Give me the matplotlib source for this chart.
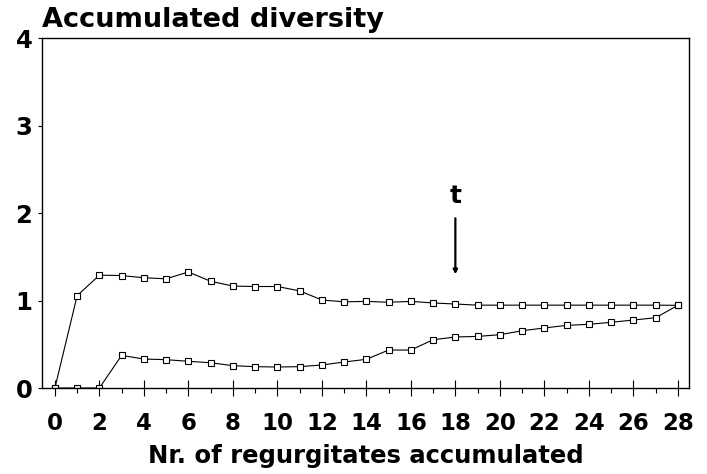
import matplotlib
matplotlib.use("Agg")
import matplotlib.pyplot as plt
from matplotlib.ticker import MultipleLocator

x_values = list(range(0, 29))
upper_series = [0.0, 1.055, 1.29, 1.285, 1.26, 1.248, 1.326, 1.22, 1.165, 1.16, 1.16,
                1.11, 1.006, 0.985, 0.99, 0.98, 0.99, 0.972, 0.96, 0.947, 0.947,
                0.947, 0.947, 0.947, 0.947, 0.947, 0.947, 0.947, 0.945]
lower_series = [0.0, 0.0, 0.0, 0.373, 0.331, 0.324, 0.305, 0.289, 0.255, 0.244, 0.24,
                0.244, 0.263, 0.297, 0.328, 0.434, 0.434, 0.552, 0.583, 0.59, 0.609,
                0.655, 0.686, 0.716, 0.728, 0.751, 0.777, 0.803, 0.945]
x_tick_labels = [str(v) for v in range(0, 29, 2)]
y_tick_labels = ["0", "1", "2", "3", "4"]
title_text = "Accumulated diversity"
xlabel_text = "Nr. of regurgitates accumulated"
annot_text = "t"
annot_x = 18
annot_text_y = 2.2
annot_tail_y = 1.94
annot_head_y = 1.3

plt.rcParams['font.family'] = ['DejaVu Sans']

fig = plt.figure(figsize=(7.07, 4.74), dpi=100)
ax = fig.add_axes([0.0594, 0.1814, 0.9151, 0.7384])

mk = dict(marker='s', markersize=4.6, markerfacecolor='white', markeredgecolor='black',
          markeredgewidth=0.8, color='black', linewidth=0.8)
ax.plot(x_values, lower_series, **mk)
ax.plot(x_values, upper_series, **mk)

ax.set_xlim(-0.58, 28.5)
ax.set_ylim(0, 4)

ax.set_xticks(list(range(0, 29, 2)))
ax.set_xticklabels(x_tick_labels, fontsize=16.5, fontweight='bold')
ax.xaxis.set_minor_locator(MultipleLocator(1))
ax.tick_params(axis='x', which='major', direction='inout', length=11, width=0.8, pad=12)
ax.tick_params(axis='x', which='minor', direction='out', length=3.5, width=0.8)

ax.set_yticks([0, 1, 2, 3, 4])
ax.set_yticklabels(y_tick_labels, fontsize=17.5, fontweight='bold')
ax.tick_params(axis='y', which='major', direction='out', length=3, width=0.8, pad=4)

for s in ax.spines.values():
    s.set_linewidth(1.0)
    s.set_color('black')

ax.set_xlabel(xlabel_text, fontsize=17.5, fontweight='bold', labelpad=6)
ax.text(0.0, 1.015, title_text, transform=ax.transAxes, fontsize=19.5,
        fontweight='bold', ha='left', va='bottom')

ax.text(annot_x, annot_text_y, annot_text, fontsize=18, fontweight='bold',
        ha='center', va='center')
ax.annotate('', xy=(annot_x, annot_head_y), xytext=(annot_x, annot_tail_y),
            arrowprops=dict(arrowstyle='-|>', color='black', lw=1.6,
                            mutation_scale=6, shrinkA=0, shrinkB=0))

fig.savefig('out.png', dpi=100)
